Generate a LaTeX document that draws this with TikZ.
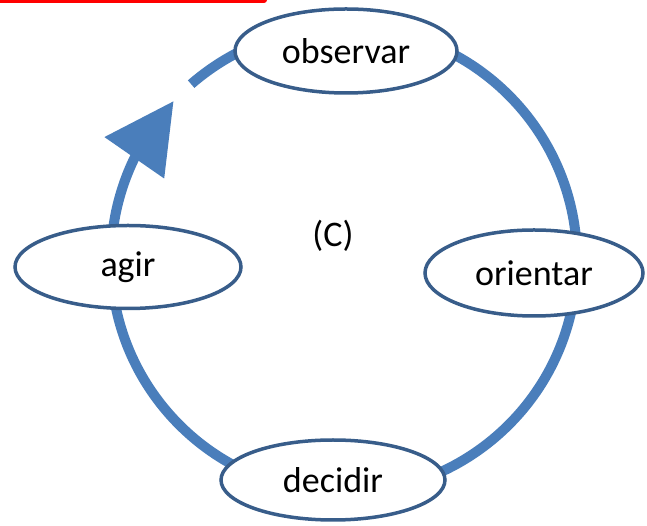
\documentclass[tikz,border=0pt]{standalone}
\usepackage{fontspec}
\setmainfont{Carlito}
\usetikzlibrary{shapes.geometric, arrows.meta, bending}
\definecolor{ringblue}{HTML}{4A7EBB}
\definecolor{edgeblue}{HTML}{385D8A}

\begin{document}
\begin{tikzpicture}[x=1pt, y=1pt,
            phase/.style={ellipse, draw=edgeblue, line width=3.5pt, fill=white,
                          inner sep=0pt, font=\fontsize{36}{40}\selectfont},
            ring/.style ={line width=10pt, ringblue, -{Triangle[length=69pt, width=70pt]}}
        ]
            \useasboundingbox (0,0) rectangle (647,526);
            \draw[red, line width=6pt, line cap=round] (-10,526) -- (264,526);

            \coordinate (mid) at (344,266);
            \path (mid) ++(131:233) coordinate (gap);

            % the cycle, clockwise
            \draw[ring] (gap) arc[start angle=131, end angle=-223, radius=233];

            \node[phase, minimum width=222pt, minimum height=84pt] (observar) at (346,475) {observar};
            \node[phase, minimum width=218pt, minimum height=86pt] (orientar) at (534,253) {orientar};
            \node[phase, minimum width=224pt, minimum height=80pt] (decidir)  at (333,46)  {decidir};
            \node[phase, minimum width=226pt, minimum height=83pt] (agir)     at (128,259) {agir};

            \node[font=\fontsize{36}{40}\selectfont] (ciclo) at (333,290) {(C)};

        \end{tikzpicture}
\end{document}
